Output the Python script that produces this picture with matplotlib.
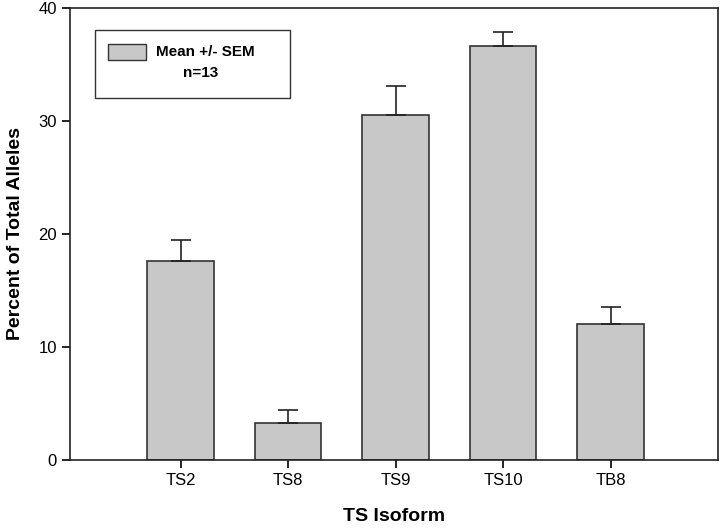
import matplotlib.pyplot as plt
from matplotlib.patches import Rectangle

plt.rcParams['font.family'] = ['Liberation Sans', 'DejaVu Sans']

isoformas = ["TS2", "TS8", "TS9", "TS10", "TB8"]
media = [17.6, 3.3, 30.5, 36.6, 12.0]
sem = [1.9, 1.1, 2.6, 1.3, 1.5]

fig = plt.figure(figsize=(7.2, 5.32), dpi=100)
ax = fig.add_axes([70/720, 72/532, 648/720, 452/532])

pos = list(range(1, len(isoformas) + 1))
ax.bar(pos, media, width=0.62, color="#c8c8c8", edgecolor="#333333", linewidth=1.2,
       yerr=[[0]*len(sem), sem], error_kw=dict(ecolor="#222222", elinewidth=1.2, capsize=7, capthick=1.2),
       label="Mean +/- SEM")

ax.set_xlim(-0.03, 6.0)
ax.set_ylim(0, 40)
ax.set_yticks([0, 10, 20, 30, 40])
ax.set_xticks(pos)
ax.set_xticklabels(isoformas)
ax.tick_params(direction="out", length=6, width=1.2, labelsize=12)
for s in ax.spines.values():
    s.set_linewidth(1.2)
    s.set_color("#222222")

ax.set_xlabel("TS Isoform", fontsize=14, fontweight="bold", labelpad=14)
ax.set_ylabel("Percent of Total Alleles", fontsize=14, fontweight="bold", labelpad=10)

# leyenda tipo SigmaPlot
fig.patches.append(Rectangle((95/720, 1-98/532), 195/720, 68/532, transform=fig.transFigure,
                             facecolor="white", edgecolor="#333333", linewidth=1.0))
fig.patches.append(Rectangle((108/720, 1-60/532), 38/720, 16/532, transform=fig.transFigure,
                             facecolor="#c8c8c8", edgecolor="#333333", linewidth=1.0))
fig.text(156/720, 1-52/532, "Mean +/- SEM", fontsize=11, fontweight="bold", va="center")
fig.text(183/720, 1-73/532, "n=13", fontsize=11, fontweight="bold", va="center")

fig.savefig("out.png", dpi=100, facecolor="white")
